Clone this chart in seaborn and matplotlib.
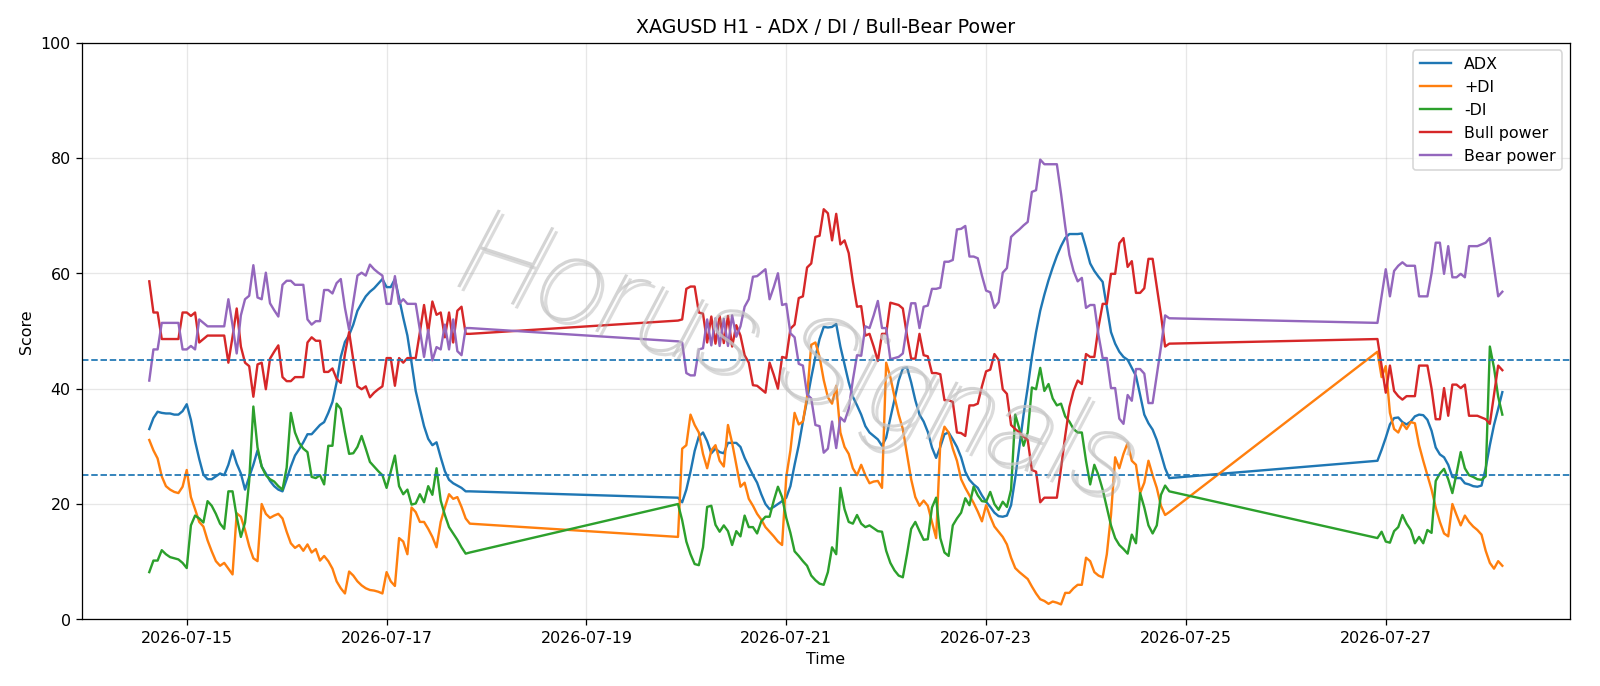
import numpy as np
import pandas as pd
import matplotlib
matplotlib.use("Agg")
import matplotlib.pyplot as plt
import matplotlib.dates as mdates
import matplotlib.patheffects as pe
import seaborn as sns

# hourly bars, three sessions (weekends missing)
t_a = pd.date_range("2026-07-14 15:00", periods=78, freq="h")
t_b = pd.date_range("2026-07-19 22:00", periods=119, freq="h")
t_c = pd.date_range("2026-07-26 22:00", periods=31, freq="h")

adx_a = [33.0, 34.9, 36.0, 35.8, 35.7, 35.7, 35.5, 35.5, 36.1, 37.3,
         34.6, 30.9, 27.8, 25.1, 24.3, 24.3, 24.8, 25.3, 25.0, 26.8,
         29.3, 27.0, 25.3, 22.5, 24.7, 26.8, 29.3, 26.5, 25.3, 24.0,
         23.1, 22.5, 22.2, 24.3, 26.5, 28.4, 29.5, 30.7, 32.1, 32.1,
         32.9, 33.7, 34.2, 35.8, 37.7, 41.1, 45.5, 48.1, 49.3, 51.1,
         53.5, 54.8, 56.0, 56.8, 57.4, 58.2, 59.0, 57.6, 57.6, 59.0,
         55.7, 52.3, 49.2, 44.5, 39.6, 36.5, 33.5, 31.3, 30.2, 30.7,
         28.1, 25.7, 24.2, 23.6, 23.2, 22.8, 22.2, 22.2]
adx_b = [21.1, 20.3, 22.5, 25.6, 29.2, 31.7, 32.4, 30.9, 28.8, 29.6,
         29.0, 28.8, 30.6, 30.6, 30.6, 29.9, 28.0, 26.5, 25.0, 23.7,
         21.7, 20.0, 19.1, 19.5, 20.0, 20.5, 21.1, 23.1, 26.8, 30.2,
         34.3, 38.0, 41.9, 45.5, 48.6, 50.7, 50.6, 50.7, 51.2, 47.3,
         44.2, 41.1, 38.6, 37.1, 35.5, 33.5, 32.4, 31.8, 31.2, 30.1,
         31.5, 34.9, 38.1, 41.4, 43.5, 43.7, 41.1, 38.0, 35.5, 34.3,
         32.5, 29.8, 28.0, 29.9, 32.1, 32.4, 31.2, 29.9, 28.1, 25.6,
         24.2, 23.4, 22.8, 21.5, 20.4, 19.5, 18.5, 17.9, 17.8, 18.0,
         19.8, 24.5, 30.0, 35.5, 40.2, 45.5, 49.8, 53.5, 56.3, 58.8,
         61.0, 63.0, 64.7, 66.1, 66.8, 66.8, 66.8, 66.9, 64.4, 61.7,
         60.4, 59.4, 58.5, 54.2, 49.8, 47.8, 46.4, 45.5, 45.0, 43.6,
         42.2, 38.9, 35.5, 34.0, 32.9, 31.1, 28.7, 26.2, 24.5]
adx_c = [27.5, 29.4, 31.5, 33.8, 34.9, 35.0, 34.2, 33.8, 34.3, 35.2,
         35.5, 35.4, 34.6, 32.7, 29.8, 28.6, 28.1, 26.8, 24.7, 24.5,
         24.5, 23.6, 23.4, 23.1, 23.0, 23.2, 26.2, 30.2, 33.7, 36.5, 39.4]

pdi_a = [31.1, 29.3, 27.9, 24.8, 23.1, 22.5, 22.1, 21.9, 23.0, 25.9,
         21.2, 19.1, 16.9, 16.1, 13.7, 11.8, 10.1, 9.3, 9.8, 8.8,
         7.8, 18.4, 17.8, 15.5, 12.7, 10.6, 10.1, 20.0, 18.3, 17.6,
         18.0, 18.3, 17.5, 15.2, 13.2, 12.4, 12.9, 11.9, 13.0, 11.6,
         12.2, 10.2, 11.0, 10.1, 8.8, 6.6, 5.4, 4.5, 8.3, 7.6,
         6.6, 5.9, 5.4, 5.1, 5.0, 4.8, 4.5, 8.2, 6.6, 5.8,
         14.1, 13.5, 11.3, 19.4, 18.6, 16.9, 16.9, 15.7, 14.3, 12.5,
         16.9, 19.4, 21.7, 20.9, 21.2, 19.5, 17.5, 16.6]
pdi_b = [14.3, 29.6, 30.2, 35.5, 33.7, 32.4, 28.7, 26.2, 29.3, 30.2,
         27.5, 26.5, 33.7, 30.6, 26.8, 23.0, 23.7, 20.9, 19.7, 18.3,
         17.3, 16.0, 15.2, 14.4, 13.5, 12.9, 24.7, 29.3, 35.8, 33.8,
         34.3, 38.6, 47.6, 48.0, 45.5, 41.5, 38.5, 37.4, 40.5, 32.4,
         29.9, 28.7, 26.2, 25.0, 26.8, 25.0, 23.6, 23.9, 24.0, 22.8,
         44.5, 42.0, 38.6, 35.5, 33.0, 28.7, 24.3, 21.2, 19.7, 20.6,
         19.7, 16.9, 14.1, 30.6, 33.4, 32.4, 29.6, 27.5, 24.3, 22.8,
         21.5, 20.2, 18.7, 17.0, 19.8, 17.8, 16.1, 15.2, 14.3, 13.0,
         10.7, 8.9, 8.2, 7.6, 7.0, 5.7, 4.5, 3.5, 3.2, 2.7,
         3.1, 2.9, 2.6, 4.6, 4.6, 5.4, 6.0, 6.0, 10.7, 10.1,
         8.2, 7.6, 7.3, 11.3, 18.1, 28.1, 26.2, 28.7, 30.6, 27.5,
         26.8, 21.9, 23.7, 27.5, 25.0, 22.8, 19.7, 18.1, 18.6]
pdi_c = [46.4, 42.0, 43.9, 35.8, 33.0, 32.4, 34.0, 33.0, 34.2, 34.0,
         30.2, 27.5, 25.0, 22.5, 19.4, 16.9, 14.9, 14.4, 20.0, 18.1,
         16.3, 18.0, 16.9, 16.1, 15.5, 14.7, 11.9, 9.8, 8.8, 10.1, 9.3]

mdi_a = [8.2, 10.2, 10.2, 12.0, 11.3, 10.8, 10.6, 10.4, 9.8, 8.9,
         16.3, 18.0, 17.5, 16.8, 20.5, 19.7, 18.3, 16.6, 15.7, 22.2,
         22.2, 17.8, 14.3, 16.8, 24.0, 36.9, 29.8, 26.5, 25.0, 24.3,
         23.9, 23.1, 22.5, 26.3, 35.8, 32.4, 30.6, 29.6, 29.0, 24.7,
         24.5, 25.0, 23.4, 30.1, 30.1, 37.4, 36.5, 32.4, 28.7, 28.8,
         29.9, 31.8, 29.6, 27.3, 26.5, 25.7, 25.0, 22.8, 25.6, 28.4,
         23.1, 21.7, 22.5, 19.9, 20.1, 21.7, 20.3, 23.1, 21.6, 26.2,
         20.6, 18.1, 16.0, 14.9, 13.8, 12.5, 11.4, 11.6]
mdi_b = [20.0, 17.2, 13.5, 11.3, 9.6, 9.4, 12.5, 19.5, 19.7, 16.4,
         15.2, 16.3, 15.3, 12.9, 15.3, 14.4, 18.0, 16.0, 16.0, 14.9,
         17.0, 17.8, 17.8, 20.6, 23.0, 21.2, 17.6, 15.0, 11.8, 11.0,
         10.1, 9.3, 7.6, 6.8, 6.2, 6.0, 8.2, 12.5, 11.3, 22.8,
         19.1, 16.9, 16.6, 18.1, 16.6, 16.0, 16.3, 15.8, 15.3, 15.2,
         11.9, 9.8, 8.5, 7.6, 7.3, 11.3, 15.7, 16.9, 15.3, 13.8,
         13.9, 19.4, 21.1, 14.1, 11.6, 11.0, 16.3, 17.5, 18.5, 21.0,
         19.8, 23.0, 21.5, 20.5, 20.4, 22.1, 20.0, 19.0, 20.4, 19.5,
         22.5, 35.5, 33.0, 30.1, 32.4, 40.2, 39.9, 43.6, 39.6, 40.8,
         38.3, 37.1, 37.4, 35.2, 34.3, 33.0, 32.4, 32.4, 27.5, 23.4,
         26.8, 25.0, 22.5, 19.4, 16.3, 14.1, 12.9, 12.2, 11.4, 14.7,
         13.2, 21.9, 19.4, 16.3, 14.9, 16.3, 21.6, 23.2, 22.2]
mdi_c = [14.1, 15.2, 13.5, 13.3, 15.3, 16.0, 18.1, 16.6, 15.5, 13.2,
         14.3, 13.2, 15.5, 15.0, 24.0, 25.3, 26.1, 24.3, 21.9, 25.3,
         29.0, 26.2, 25.0, 24.7, 24.3, 24.2, 24.8, 47.3, 43.6, 38.6, 35.5]

bull_a = [58.6, 53.2, 53.2, 48.6, 48.6, 48.6, 48.6, 48.6, 53.2, 53.2,
          52.6, 53.2, 48.0, 48.6, 49.2, 49.2, 49.2, 49.2, 49.2, 44.5,
          49.0, 53.9, 47.3, 44.5, 43.9, 38.6, 44.2, 44.5, 39.9, 45.2,
          46.4, 47.5, 42.0, 41.3, 41.3, 42.0, 42.0, 42.0, 48.0, 48.9,
          48.3, 48.3, 42.9, 42.9, 43.5, 41.7, 41.0, 46.0, 49.8, 45.0,
          40.4, 39.9, 40.4, 38.5, 39.3, 39.9, 40.4, 45.3, 45.3, 40.5,
          45.3, 44.5, 45.3, 45.3, 45.3, 49.8, 54.5, 49.8, 55.1, 52.8,
          53.2, 48.9, 53.2, 48.0, 53.5, 54.2, 49.5, 49.5]
bull_b = [51.8, 52.0, 57.3, 57.7, 57.7, 53.2, 53.0, 48.0, 52.5, 47.8,
          52.6, 47.9, 52.6, 47.3, 51.0, 49.2, 45.8, 44.5, 40.6, 40.5,
          39.9, 39.3, 44.5, 42.4, 40.0, 45.5, 45.3, 50.4, 51.1, 55.7,
          56.0, 61.0, 61.7, 66.3, 66.5, 71.1, 70.4, 65.7, 70.3, 65.0,
          65.7, 63.5, 58.5, 54.2, 54.3, 49.2, 49.5, 47.3, 44.8, 49.5,
          49.5, 54.9, 54.7, 54.5, 53.9, 49.2, 45.2, 45.2, 49.5, 45.8,
          45.6, 42.7, 42.7, 42.5, 38.0, 38.0, 37.7, 32.4, 32.3, 31.8,
          37.1, 37.1, 37.4, 40.4, 43.0, 43.3, 46.0, 45.0, 39.9, 39.1,
          33.7, 33.0, 32.4, 31.7, 31.1, 25.9, 25.6, 20.3, 21.1, 21.1,
          21.1, 21.1, 26.2, 31.8, 36.8, 39.6, 41.4, 40.8, 46.0, 45.5,
          45.5, 50.7, 54.7, 54.7, 59.9, 59.9, 65.2, 66.1, 61.1, 62.1,
          56.6, 56.6, 57.4, 62.5, 62.5, 57.6, 52.8, 47.3, 47.8]
bull_c = [48.6, 44.0, 39.3, 44.0, 39.6, 38.7, 38.1, 38.7, 38.7, 38.7,
          44.0, 44.0, 44.0, 40.0, 34.7, 34.7, 40.1, 35.3, 40.7, 40.7,
          40.1, 40.7, 35.3, 35.3, 35.3, 35.0, 34.7, 33.9, 39.0, 44.0, 43.2]

bear_a = [41.4, 46.8, 46.8, 51.4, 51.4, 51.4, 51.4, 51.4, 46.8, 46.8,
          47.4, 46.8, 52.0, 51.4, 50.8, 50.8, 50.8, 50.8, 50.8, 55.5,
          51.0, 46.1, 52.7, 55.5, 56.1, 61.4, 55.8, 55.5, 60.1, 54.8,
          53.6, 52.5, 58.0, 58.7, 58.7, 58.0, 58.0, 58.0, 52.0, 51.1,
          51.7, 51.7, 57.1, 57.1, 56.5, 58.3, 59.0, 54.0, 50.2, 55.0,
          59.6, 60.1, 59.6, 61.5, 60.7, 60.1, 59.6, 54.7, 54.7, 59.5,
          54.7, 55.5, 54.7, 54.7, 54.7, 50.2, 45.5, 50.2, 44.9, 47.2,
          46.8, 51.1, 46.8, 52.0, 46.5, 45.8, 50.5, 50.5]
bear_b = [48.2, 48.0, 42.7, 42.3, 42.3, 46.8, 47.0, 52.0, 47.5, 52.2,
          47.4, 52.1, 47.4, 52.7, 49.0, 50.8, 54.2, 55.5, 59.4, 59.5,
          60.1, 60.7, 55.5, 57.6, 60.0, 54.5, 54.7, 49.6, 48.9, 44.3,
          44.0, 39.0, 38.3, 33.7, 33.5, 28.9, 29.6, 34.3, 29.7, 35.0,
          34.3, 36.5, 41.5, 45.8, 45.7, 50.8, 50.5, 52.7, 55.2, 50.5,
          50.5, 45.1, 45.3, 45.5, 46.1, 50.8, 54.8, 54.8, 50.5, 54.2,
          54.4, 57.3, 57.3, 57.5, 62.0, 62.0, 62.3, 67.6, 67.7, 68.2,
          62.9, 62.9, 62.6, 59.6, 57.0, 56.7, 54.0, 55.0, 60.1, 60.9,
          66.3, 67.0, 67.6, 68.3, 68.9, 74.1, 74.4, 79.7, 78.9, 78.9,
          78.9, 78.9, 73.8, 68.2, 63.2, 60.4, 58.6, 59.2, 54.0, 54.5,
          54.5, 49.3, 45.3, 45.3, 40.1, 40.1, 34.8, 33.9, 38.9, 37.9,
          43.4, 43.4, 42.6, 37.5, 37.5, 42.4, 47.2, 52.7, 52.2]
bear_c = [51.4, 56.0, 60.7, 56.0, 60.4, 61.3, 61.9, 61.3, 61.3, 61.3,
          56.0, 56.0, 56.0, 60.0, 65.3, 65.3, 59.9, 64.7, 59.3, 59.3,
          59.9, 59.3, 64.7, 64.7, 64.7, 65.0, 65.3, 66.1, 61.0, 56.0, 56.8]

dt = pd.DataFrame({
    "Time": t_a.append(t_b).append(t_c),
    "ADX": adx_a + adx_b + adx_c,
    "+DI": pdi_a + pdi_b + pdi_c,
    "-DI": mdi_a + mdi_b + mdi_c,
    "Bull power": bull_a + bull_b + bull_c,
    "Bear power": bear_a + bear_b + bear_c,
})
dt_long = dt.melt(id_vars="Time", var_name="series", value_name="Score")

fig, ax = plt.subplots(figsize=(1600.4 / 114.3, 686.4 / 114.3), dpi=114.3)
fig.subplots_adjust(left=0.051, right=0.981, bottom=0.097, top=0.9375)

sns.lineplot(data=dt_long, x="Time", y="Score", hue="series",
             palette=sns.color_palette("tab10", 5), linewidth=1.5,
             sort=False, ax=ax)

ax.axhline(25, color="tab:blue", linestyle="--", linewidth=1.1)
ax.axhline(45, color="tab:blue", linestyle="--", linewidth=1.1)

ax.set_ylim(0, 100)
ax.xaxis.set_major_locator(mdates.DayLocator(bymonthday=range(1, 32, 2)))
ax.xaxis.set_major_formatter(mdates.DateFormatter("%Y-%m-%d"))
ax.grid(True, alpha=0.3)
ax.set_title("XAGUSD H1 - ADX / DI / Bull-Bear Power")
ax.set_xlabel("Time")
ax.set_ylabel("Score")
sns.move_legend(ax, "upper right", title=None)

# watermark
ax.text(0.48, 0.445, "Horus Signals", transform=ax.transAxes,
        rotation=-18, fontsize=76, style="italic", fontweight=100,
        family=["Roboto", "Lato", "DejaVu Sans"], ha="center", va="center",
        color="#c6c6c6", alpha=0.75, zorder=5,
        path_effects=[pe.withSimplePatchShadow(offset=(2.5, -2.5), shadow_rgbFace="#9a9a9a", alpha=0.35)])

plt.savefig("out.png", dpi=114.3)
